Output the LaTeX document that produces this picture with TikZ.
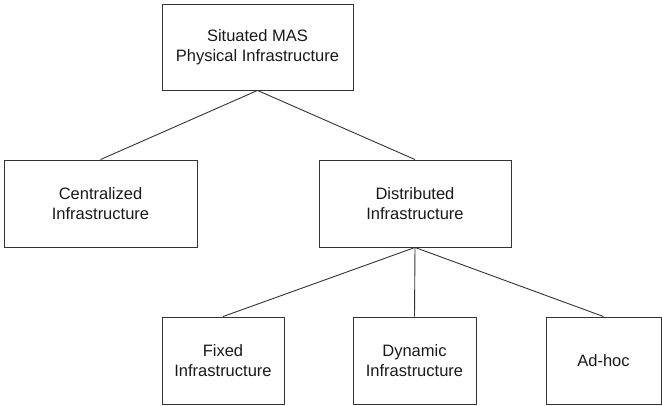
\documentclass[tikz,border=0pt]{standalone}
\usepackage{fontspec}
\setmainfont{Liberation Sans}
\begin{document}
\begin{tikzpicture}[x=1pt,y=-1pt,
  box/.style={draw=black!80,line width=0.9pt,rectangle,inner sep=0pt,align=center,
    font=\fontsize{16.5}{19.5}\selectfont,text=black!90},
  link/.style={draw=black!80,line width=0.9pt}]
\useasboundingbox (0,0) rectangle (662,406);
\node[box,minimum width=191,minimum height=86] (top) at (257.5,47) {Situated MAS\\Physical Infrastructure};
\node[box,minimum width=193,minimum height=87] (cen) at (100.5,203.5) {Centralized\\Infrastructure};
\node[box,minimum width=192,minimum height=87] (dis) at (415,203.5) {Distributed\\Infrastructure};
\node[box,minimum width=122,minimum height=87] (fix) at (223,360.5) {Fixed\\Infrastructure};
\node[box,minimum width=123,minimum height=87] (dyn) at (414.5,360.5) {Dynamic\\Infrastructure};
\node[box,minimum width=115,minimum height=87] (adh) at (603.5,360.5) {Ad-hoc};
\draw[link] (top.south) -- (cen.north);
\draw[link] (top.south) -- (dis.north);
\draw[link] (dis.south) -- (fix.north);
\draw[link] (dis.south) -- (dyn.north);
\draw[link] (dis.south) -- (adh.north);
\end{tikzpicture}
\end{document}
